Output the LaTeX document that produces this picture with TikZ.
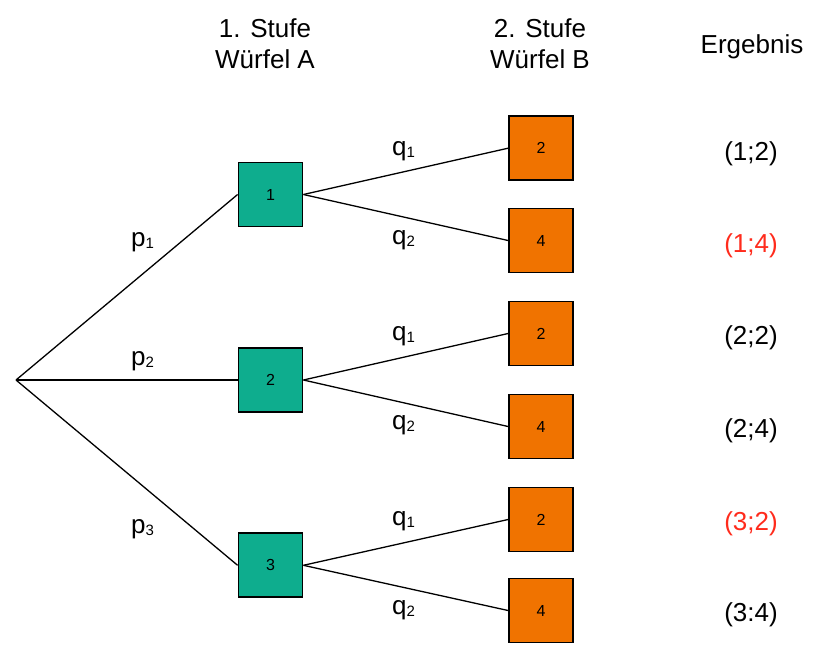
\documentclass[tikz,border=0pt]{standalone}
\usepackage{fontspec}
\setmainfont{Liberation Sans}
\definecolor{boxgreen}{HTML}{0EAD8E}
\definecolor{boxorange}{HTML}{F07300}
\definecolor{resred}{HTML}{FF2B1C}
\newcommand{\lbl}[2]{#1\raisebox{-2pt}{\fontsize{15}{15}\selectfont #2}}
\tikzset{
  greenbox/.style={draw=black, line width=1.8pt, fill=boxgreen, minimum width=64pt, minimum height=64pt, inner sep=0pt, font=\fontsize{16}{18}\selectfont},
  orangebox/.style={draw=black, line width=1.8pt, fill=boxorange, minimum width=64pt, minimum height=64pt, inner sep=0pt, font=\fontsize{16}{18}\selectfont},
  edge/.style={draw=black, line width=1.3pt},
  txt/.style={font=\fontsize{26}{30}\selectfont, inner sep=0pt, anchor=base},
  lab/.style={font=\fontsize{26}{30}\selectfont, inner sep=0pt, anchor=base west}
}
\begin{document}
\begin{tikzpicture}[x=1pt,y=-1pt]
\useasboundingbox (0,0) rectangle (829,659);
% headers
\node[txt] (h1a) at (265,37) {1. Stufe};
\node[txt] (h1b) at (265,68) {Würfel A};
\node[txt] (h2a) at (540,37) {2. Stufe};
\node[txt] (h2b) at (540,68) {Würfel B};
\node[txt] (h3) at (752,53) {Ergebnis};
% root
\coordinate (root) at (16,380);
% first stage
\node[greenbox] (A1) at (270.5,194.5) {1};
\node[greenbox] (A2) at (270.5,380) {2};
\node[greenbox] (A3) at (270.5,565.3) {3};
% second stage
\node[orangebox] (B1) at (541,148.2) {2};
\node[orangebox] (B2) at (541,240.5) {4};
\node[orangebox] (B3) at (541,333.5) {2};
\node[orangebox] (B4) at (541,426.5) {4};
\node[orangebox] (B5) at (541,519.5) {2};
\node[orangebox] (B6) at (541,610.5) {4};
% edges
\draw[edge] (root) -- (A1.west);
\draw[edge] (root) -- (A2.west);
\draw[edge] (root) -- (A3.west);
\draw[edge] (A1.east) -- (B1.west);
\draw[edge] (A1.east) -- (B2.west);
\draw[edge] (A2.east) -- (B3.west);
\draw[edge] (A2.east) -- (B4.west);
\draw[edge] (A3.east) -- (B5.west);
\draw[edge] (A3.east) -- (B6.west);
% probability labels
\node[lab] (p1) at (131,246) {\lbl{p}{1}};
\node[lab] (p2) at (131,365) {\lbl{p}{2}};
\node[lab] (p3) at (131,533) {\lbl{p}{3}};
\node[lab] (q1) at (392,155) {\lbl{q}{1}};
\node[lab] (q2) at (392,244) {\lbl{q}{2}};
\node[lab] (q3) at (392,340.5) {\lbl{q}{1}};
\node[lab] (q4) at (392,429.5) {\lbl{q}{2}};
\node[lab] (q5) at (392,525.5) {\lbl{q}{1}};
\node[lab] (q6) at (392,614.5) {\lbl{q}{2}};
% results
\node[txt] (r1) at (751,160.5) {(1;2)};
\node[txt, text=resred] (r2) at (751,252) {(1;4)};
\node[txt] (r3) at (751,344) {(2;2)};
\node[txt] (r4) at (751,437) {(2;4)};
\node[txt, text=resred] (r5) at (751,530) {(3;2)};
\node[txt] (r6) at (751,621) {(3:4)};
\end{tikzpicture}
\end{document}
